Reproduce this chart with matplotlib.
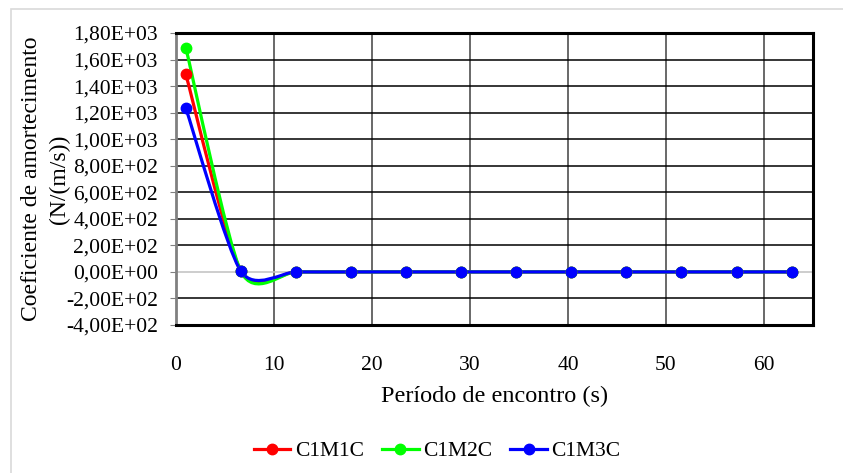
import numpy as np
import matplotlib.pyplot as plt
from matplotlib.path import Path
from matplotlib.patches import PathPatch, Rectangle
from matplotlib.lines import Line2D
from matplotlib.ticker import FuncFormatter

plt.rcParams['font.family'] = ['Liberation Serif', 'DejaVu Serif']

# Período de encontro (s)
periodo = [1.0, 6.62, 12.24, 17.86, 23.48, 29.1, 34.72, 40.34, 45.96, 51.58, 57.2, 62.82]
c1m1c = [1490, 5, 0, 0, 0, 0, 0, 0, 0, 0, 0, 0]
c1m2c = [1690, 5, 0, 0, 0, 0, 0, 0, 0, 0, 0, 0]
c1m3c = [1235, 5, 0, 0, 0, 0, 0, 0, 0, 0, 0, 0]
series = [("C1M1C", c1m1c, "#ff0000"),
          ("C1M2C", c1m2c, "#00ff00"),
          ("C1M3C", c1m3c, "#0000ff")]


def smooth_path(x, y, k=1 / 8):
    # Excel-like smoothed line: cubic Bezier through the points
    p = np.column_stack([x, y]).astype(float)
    n = len(p)
    verts = [p[0]]
    codes = [Path.MOVETO]
    for i in range(n - 1):
        p0 = p[max(i - 1, 0)]
        p1 = p[i]
        p2 = p[i + 1]
        p3 = p[min(i + 2, n - 1)]
        verts += [p1 + (p2 - p0) * k, p2 - (p3 - p1) * k, p2]
        codes += [Path.CURVE4] * 3
    return Path(verts, codes)


fig = plt.figure(figsize=(8.43, 4.73), dpi=100)
fig.patches.append(Rectangle((11 / 843, -0.1), 1.2, 1 - 9 / 473 + 0.1,
                             transform=fig.transFigure, fill=False,
                             edgecolor="#d9d9d9", linewidth=1.2))
ax = fig.add_axes([176 / 843, 1 - 325 / 473, (813 - 176) / 843, (325 - 33) / 473])

for name, vals, col in series:
    ax.add_patch(PathPatch(smooth_path(periodo, vals), facecolor="none",
                           edgecolor=col, linewidth=2.3, zorder=3))
    ax.plot(periodo, vals, linestyle="none", marker="o", markersize=7.5,
            color=col, zorder=4)

ax.set_xlim(0, 65)
ax.set_ylim(-400, 1800)
ax.set_xticks(range(0, 70, 10))
ax.set_yticks(range(-400, 2000, 200))

def sci_comma(v, pos):
    s = "%.2E" % v
    return s.replace(".", ",")

ax.yaxis.set_major_formatter(FuncFormatter(sci_comma))
ax.tick_params(axis="y", labelsize=15.5, length=4, color="#808080", pad=9)
ax.tick_params(axis="x", labelsize=15.5, length=0, pad=22)

ax.grid(False)
for xv in range(10, 70, 10):
    ax.axvline(xv, color="#404040", linewidth=1.1, zorder=1)
for yv in range(-200, 2000, 200):
    if yv == 0:
        ax.axhline(yv, color="#c0c0c0", linewidth=1.1, zorder=1)
    else:
        ax.axhline(yv, color="black", linewidth=1.1, zorder=1)

ax.spines["left"].set_color("#808080")
ax.spines["left"].set_linewidth(2)
for s in ["top", "right", "bottom"]:
    ax.spines[s].set_color("black")
    ax.spines[s].set_linewidth(2.2)

ax.set_xlabel("Período de encontro (s)", fontsize=17.5, labelpad=8)
ax.set_ylabel("Coeficiente de amortecimento\n(N/(m/s))", fontsize=17,
              labelpad=-3, linespacing=1.45)

handles = [Line2D([], [], color=c, linewidth=2.3, marker="o", markersize=7.5)
           for _, _, c in series]
fig.legend(handles, [n for n, _, _ in series], loc="center",
           bbox_to_anchor=(437 / 843, 1 - 451 / 473), ncol=3, frameon=False,
           fontsize=15.5, handlelength=1.7, handletextpad=0.2, columnspacing=0.85)

fig.savefig("out.png", dpi=100)
